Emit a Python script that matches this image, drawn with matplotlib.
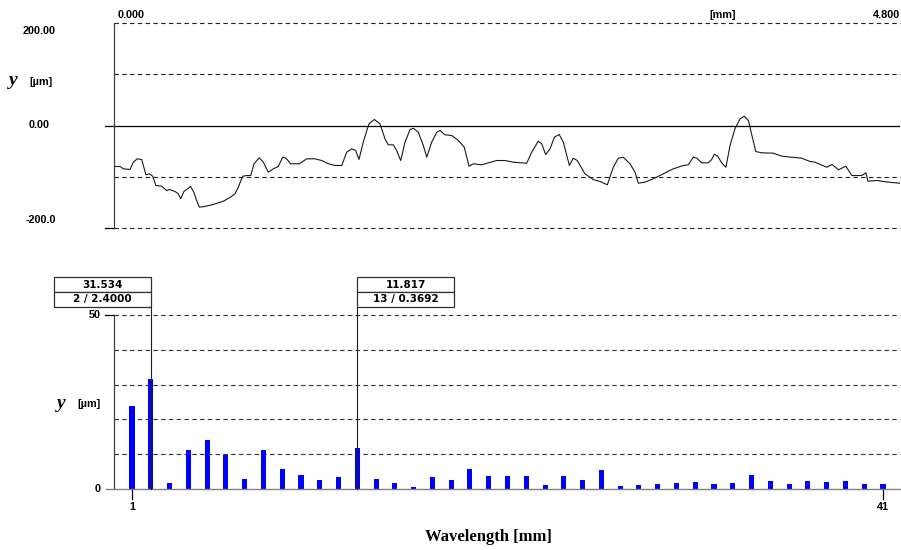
import numpy as np
import matplotlib
matplotlib.use('Agg')
import matplotlib.pyplot as plt
from matplotlib.patches import Rectangle

# profile trace, x in mm, y in µm
profile_x = [0.000, 0.037, 0.057, 0.098, 0.118, 0.142, 0.169, 0.195, 0.216, 0.236,
             0.256, 0.291, 0.322, 0.338, 0.373, 0.393, 0.407, 0.427, 0.468, 0.489,
             0.501, 0.521, 0.556, 0.606, 0.668, 0.708, 0.739, 0.759, 0.786, 0.814,
             0.835, 0.855, 0.887, 0.912, 0.942, 0.973, 1.003, 1.030, 1.050, 1.079,
             1.132, 1.177, 1.227, 1.268, 1.309, 1.350, 1.391, 1.421, 1.452, 1.476,
             1.496, 1.522, 1.557, 1.590, 1.624, 1.655, 1.675, 1.706, 1.726, 1.751,
             1.777, 1.808, 1.828, 1.858, 1.889, 1.910, 1.940, 1.971, 1.991, 2.021,
             2.062, 2.103, 2.139, 2.168, 2.194, 2.246, 2.286, 2.337, 2.388, 2.439,
             2.520, 2.551, 2.591, 2.612, 2.636, 2.663, 2.689, 2.719, 2.744, 2.781,
             2.805, 2.829, 2.876, 2.927, 2.968, 3.013, 3.049, 3.080, 3.110, 3.151,
             3.182, 3.202, 3.243, 3.293, 3.355, 3.416, 3.477, 3.507, 3.538, 3.559,
             3.589, 3.629, 3.650, 3.666, 3.687, 3.711, 3.737, 3.762, 3.792, 3.823,
             3.849, 3.874, 3.898, 3.919, 3.955, 4.026, 4.078, 4.139, 4.200, 4.250,
             4.281, 4.352, 4.385, 4.425, 4.469, 4.506, 4.567, 4.592, 4.604, 4.658,
             4.729, 4.800]
profile_y = [-80.0, -80.0, -84.5, -85.9, -71.6, -65.0, -66.3, -96.2, -94.2, -98.9,
             -117.1, -118.4, -126.8, -124.9, -128.8, -133.3, -143.0, -128.8, -119.0, -131.3,
             -143.0, -159.4, -158.0, -154.1, -147.7, -140.5, -133.3, -120.4, -98.9, -97.6,
             -97.6, -74.7, -63.0, -71.6, -91.1, -84.5, -80.0, -61.9, -63.8, -74.7,
             -74.7, -65.0, -65.0, -68.3, -74.7, -78.0, -78.0, -52.1, -45.5, -48.8,
             -66.3, -32.6, 3.3, 11.7, 3.3, -26.0, -37.7, -37.7, -48.8, -68.3,
             -32.6, -7.8, -5.3, -13.1, -39.0, -61.9, -32.6, -13.1, -9.8, -18.1,
             -19.5, -29.3, -42.3, -79.4, -74.7, -76.7, -72.8, -68.3, -68.3, -71.6,
             -73.6, -52.1, -30.6, -35.7, -56.6, -45.5, -22.8, -17.6, -32.6, -78.0,
             -63.8, -68.3, -94.2, -105.4, -109.3, -115.7, -81.4, -63.8, -61.9, -74.7,
             -91.1, -112.6, -110.6, -104.0, -94.2, -84.5, -78.0, -76.7, -61.9, -63.8,
             -72.8, -72.8, -66.3, -56.0, -59.9, -72.8, -81.4, -39.0, -6.4, 13.1,
             18.1, 9.8, -22.8, -50.7, -53.3, -54.0, -59.9, -61.9, -63.8, -70.2,
             -71.6, -81.4, -76.1, -86.4, -79.4, -97.6, -97.6, -92.3, -108.7, -107.3,
             -110.6, -112.6]

harmonic = np.arange(1, 42)
amplitude = [23.9, 31.534, 1.6, 11.3, 14.1, 9.8, 3.0, 11.3, 5.7, 4.1,
             2.5, 3.5, 11.817, 3.0, 1.6, 0.6, 3.4, 2.6, 5.8, 3.6,
             3.6, 3.6, 1.15, 3.6, 2.6, 5.6, 0.86, 1.15, 1.4, 1.7,
             2.0, 1.4, 1.7, 3.9, 2.3, 1.4, 2.3, 2.0, 2.3, 1.4, 1.4]
marker_idx = [2, 13]
marker_wl = [2.4000, 0.3692]
marker_side = ['left', 'right']

W, H = 901, 550
SANS = 'Liberation Sans'
SERIF = 'Liberation Serif'


def fx(px):
    return px / W


def fy(py):
    return 1 - py / H


dash = (0, (4, 3))
fig = plt.figure(figsize=(9.01, 5.5), dpi=100)

# ---- profile panel
ax1 = fig.add_axes([fx(114), fy(228), fx(900) - fx(114), fy(23) - fy(228)])
ax1.plot(profile_x, profile_y, color='#1a1a1a', lw=0.8)
ax1.set_xlim(0, 4.8)
ax1.set_ylim(-200, 200)
for v in (-200, -100, 100, 200):
    ax1.axhline(v, color='#222222', lw=0.8, ls=dash, clip_on=False)
ax1.axhline(0, color='black', lw=0.9)
for v in (0, -200):
    ax1.plot([-0.012, 0], [v, v], transform=ax1.get_yaxis_transform(),
             color='black', lw=0.9, clip_on=False)
for s in ('top', 'right', 'bottom'):
    ax1.spines[s].set_visible(False)
ax1.spines['left'].set_color('#404040')
ax1.spines['left'].set_linewidth(0.9)
ax1.set_xticks([])
ax1.set_yticks([])

lab = dict(fontsize=7.8, fontweight='bold', family=SANS)
boxlab = dict(fontsize=7.5, fontweight='bold', family='DejaVu Sans')
fig.text(fx(39), fy(31), '200.00', ha='center', va='center', **lab)
fig.text(fx(39), fy(125), '0.00', ha='center', va='center', **lab)
fig.text(fx(41), fy(220), '-200.0', ha='center', va='center', **lab)
fig.text(fx(118), fy(15), '0.000', ha='left', va='center', **lab)
fig.text(fx(723), fy(15), '[mm]', ha='center', va='center', **lab)
fig.text(fx(900), fy(15), '4.800', ha='right', va='center', **lab)
fig.text(fx(13), fy(85), 'y', ha='center', va='baseline', fontsize=14,
         style='italic', fontweight='bold', family=SERIF)
fig.text(fx(41), fy(85), '[µm]', ha='center', va='baseline', **lab)

# ---- spectrum panel
ax2 = fig.add_axes([fx(114), fy(489), fx(900) - fx(114), fy(315) - fy(489)])
ax2.set_xlim(0.041, 41.905)
ax2.set_ylim(0, 50)
for v in (10, 20, 30, 40, 50):
    ax2.axhline(v, color='#333333', lw=0.8, ls=dash, clip_on=False, zorder=1)
ax2.bar(harmonic, amplitude, width=0.27, color='#0000ff', zorder=3)
ax2.plot([-0.010, 1], [0, 0], transform=ax2.get_yaxis_transform(),
         color='#808080', lw=1.0, clip_on=False, zorder=4)
ax2.plot([-0.012, 0], [50, 50], transform=ax2.get_yaxis_transform(),
         color='black', lw=0.9, clip_on=False)
for h in (harmonic[0], harmonic[-1]):
    ax2.plot([h, h], [0, -2.9], color='black', lw=0.9, clip_on=False)
    ax2.text(h, -5.2, str(h), ha='center', va='center', **lab)

box_w = 5.17
for idx, wl, side in zip(marker_idx, marker_wl, marker_side):
    amp = amplitude[idx - 1]
    ax2.plot([idx, idx], [0, 52.4], color='#202020', lw=0.8, clip_on=False, zorder=5)
    x0 = idx - box_w if side == 'left' else idx
    rows = [(56.6, 60.9, f'{amp:.3f}'), (52.4, 56.6, f'{idx} / {wl:.4f}')]
    for y0, y1, txt in rows:
        ax2.add_patch(Rectangle((x0, y0), box_w, y1 - y0, facecolor='white',
                                edgecolor='#303030', lw=0.9, clip_on=False))
        ax2.text(x0 + box_w / 2, (y0 + y1) / 2, txt, ha='center', va='center',
                 clip_on=False, **boxlab)

for s in ('top', 'right', 'bottom'):
    ax2.spines[s].set_visible(False)
ax2.spines['left'].set_color('#404040')
ax2.spines['left'].set_linewidth(0.9)
ax2.set_xticks([])
ax2.set_yticks([])

fig.text(fx(101), fy(315), '50', ha='right', va='center', **lab)
fig.text(fx(101), fy(489), '0', ha='right', va='center', **lab)
fig.text(fx(61), fy(408), 'y', ha='center', va='baseline', fontsize=14,
         style='italic', fontweight='bold', family=SERIF)
fig.text(fx(89), fy(407), '[µm]', ha='center', va='baseline', **lab)
fig.text(fx(488), fy(537), 'Wavelength [mm]', ha='center', va='center',
         fontsize=12, fontweight='bold', family=SERIF)

fig.savefig('out.png', dpi=100)
